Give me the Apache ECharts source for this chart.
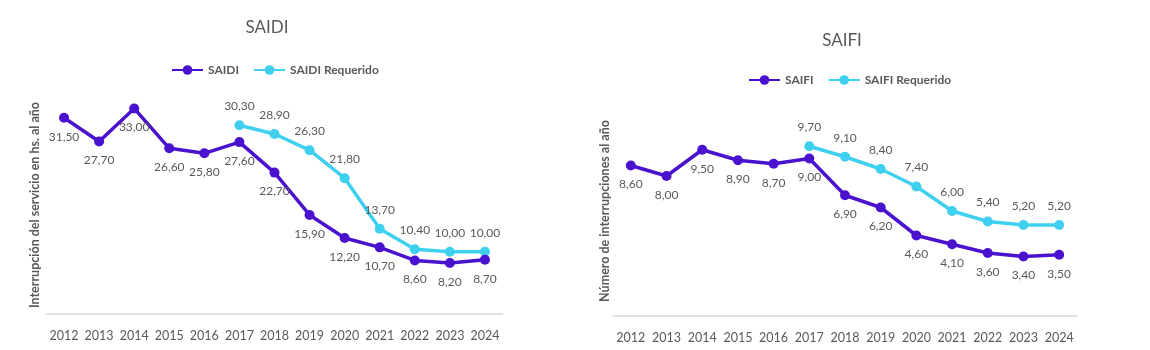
<!DOCTYPE html>
<html>
<head>
<meta charset="utf-8">
<script src="https://cdn.jsdelivr.net/npm/echarts@6/dist/echarts.min.js"></script>
<style>html,body{margin:0;padding:0;background:#fff}#c{width:1150px;height:350px}</style>
</head>
<body>
<div id="c"></div>
<script>
const years = ['2012','2013','2014','2015','2016','2017','2018','2019','2020','2021','2022','2023','2024'];
const saidi = [31.5, 27.7, 33.0, 26.6, 25.8, 27.6, 22.7, 15.9, 12.2, 10.7, 8.6, 8.2, 8.7];
const saidiReq = [null, null, null, null, null, 30.3, 28.9, 26.3, 21.8, 13.7, 10.4, 10.0, 10.0];
const saifi = [8.6, 8.0, 9.5, 8.9, 8.7, 9.0, 6.9, 6.2, 4.6, 4.1, 3.6, 3.4, 3.5];
const saifiReq = [null, null, null, null, null, 9.7, 9.1, 8.4, 7.4, 6.0, 5.4, 5.2, 5.2];

const PURPLE = '#4a12cf';
const CYAN = '#3fd0f0';
const TXT = '#595959';
const FONT = 'Lato';
const fmt = p => p.value == null ? '' : Number(p.value).toFixed(2).replace('.', ',');

function lineSeries(name, data, color, idx, pos) {
  return {
    name, type: 'line', data, xAxisIndex: idx, yAxisIndex: idx,
    symbol: 'circle', symbolSize: 10, connectNulls: false,
    lineStyle: { width: 3.5, color },
    itemStyle: { color },
    label: { show: true, position: pos, distance: 8, formatter: fmt, color: TXT, fontSize: 12, fontFamily: FONT },
    emphasis: { disabled: true },
    z: pos === 'top' ? 2 : 3
  };
}
function xAx(gi) {
  return {
    type: 'category', gridIndex: gi, data: years, boundaryGap: true,
    axisLine: { show: true, lineStyle: { color: '#d9d9d9', width: 1.5 } },
    axisTick: { show: false },
    axisLabel: { color: TXT, fontSize: 12.5, fontFamily: FONT, margin: 15, interval: 0 }
  };
}
function yAx(gi, max, name, gap) {
  return {
    type: 'value', gridIndex: gi, min: 0, max,
    axisLine: { show: false }, axisTick: { show: false }, axisLabel: { show: false }, splitLine: { show: false },
    name, nameLocation: 'middle', nameGap: gap,
    nameTextStyle: { color: TXT, fontSize: 12.5, fontWeight: 'bold', fontFamily: FONT }
  };
}
const chart = echarts.init(document.getElementById('c'));
chart.setOption({
  animation: false,
  title: [
    { text: 'SAIDI', left: 262, top: 14, textAlign: 'center', textStyle: { color: TXT, fontSize: 17, fontWeight: 'normal', fontFamily: FONT } },
    { text: 'SAIFI', left: 837, top: 27, textAlign: 'center', textStyle: { color: TXT, fontSize: 17, fontWeight: 'normal', fontFamily: FONT } }
  ],
  legend: [
    { data: ['SAIDI', 'SAIDI Requerido'], left: 166, top: 59, itemWidth: 31, itemHeight: 12, itemGap: 14,
      textStyle: { color: TXT, fontSize: 12, fontWeight: 'bold', fontFamily: FONT } },
    { data: ['SAIFI', 'SAIFI Requerido'], left: 743, top: 69, itemWidth: 31, itemHeight: 12, itemGap: 14,
      textStyle: { color: TXT, fontSize: 12, fontWeight: 'bold', fontFamily: FONT } }
  ],
  grid: [
    { left: 46.5, width: 456, top: 96, height: 218 },
    { left: 613, width: 464, top: 106, height: 210 }
  ],
  xAxis: [xAx(0), xAx(1)],
  yAxis: [yAx(0, 35, 'Interrupción del servicio en hs. al año', 5), yAx(1, 12, 'Número de interrupciones al año', 2)],
  series: [
    lineSeries('SAIDI', saidi, PURPLE, 0, 'bottom'),
    lineSeries('SAIDI Requerido', saidiReq, CYAN, 0, 'top'),
    lineSeries('SAIFI', saifi, PURPLE, 1, 'bottom'),
    lineSeries('SAIFI Requerido', saifiReq, CYAN, 1, 'top')
  ]
});
</script>
</body>
</html>
